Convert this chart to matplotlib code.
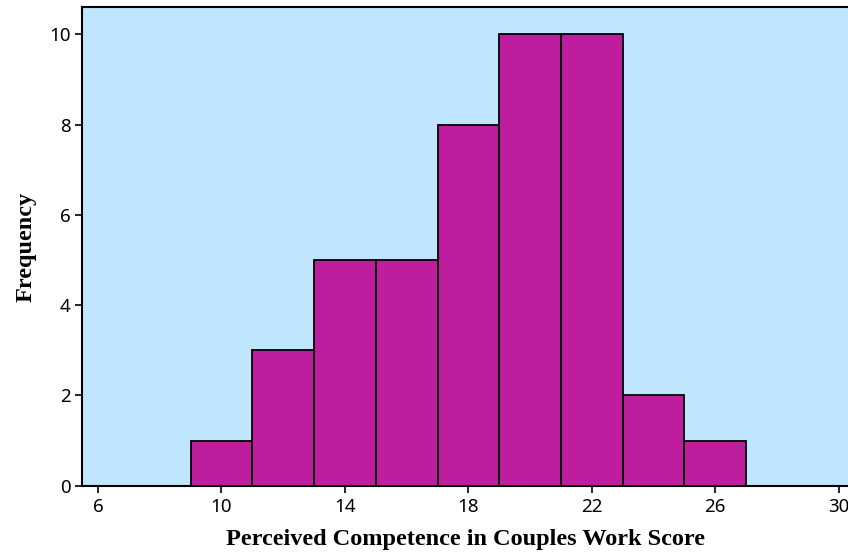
import matplotlib
matplotlib.use("Agg")
import matplotlib.pyplot as plt

bin_edges = [9, 11, 13, 15, 17, 19, 21, 23, 25, 27]
counts = [1, 3, 5, 5, 8, 10, 10, 2, 1]
x_ticks = [6, 10, 14, 18, 22, 26, 30]
y_ticks = [0, 2, 4, 6, 8, 10]

fig = plt.figure(figsize=(8.48, 5.55), dpi=100)
W, H = 848, 555
ax = fig.add_axes([82.3 / W, 1 - 485.7 / H, 1 - 82.3 / W, (485.7 - 7.3) / H])
ax.set_facecolor("#BFE5FF")

lefts = bin_edges[:-1]
widths = [b - a for a, b in zip(bin_edges[:-1], bin_edges[1:])]
ax.bar(lefts, counts, width=widths, align="edge", color="#BE1E9E",
       edgecolor="black", linewidth=1.3, zorder=3)

ax.set_xlim(5.49, 30.30)
ax.set_ylim(0, 10.6)
ax.set_xticks(x_ticks)
ax.set_yticks(y_ticks)
ax.tick_params(axis="both", labelsize=13.5, length=5, width=1.2, color="black")
ax.tick_params(axis="x", pad=4)
for lab in ax.get_xticklabels() + ax.get_yticklabels():
    lab.set_family("Noto Sans")
ax.spines["right"].set_visible(False)
for s in ["left", "bottom", "top"]:
    ax.spines[s].set_linewidth(1.5)

ax.set_xlabel("Perceived Competence in Couples Work Score",
              family="Liberation Serif", fontweight="bold", fontsize=17.5, labelpad=9)
ax.set_ylabel("Frequency", family="Liberation Serif", fontweight="bold",
              fontsize=17.5, labelpad=9)

fig.savefig("out.png", dpi=100)
